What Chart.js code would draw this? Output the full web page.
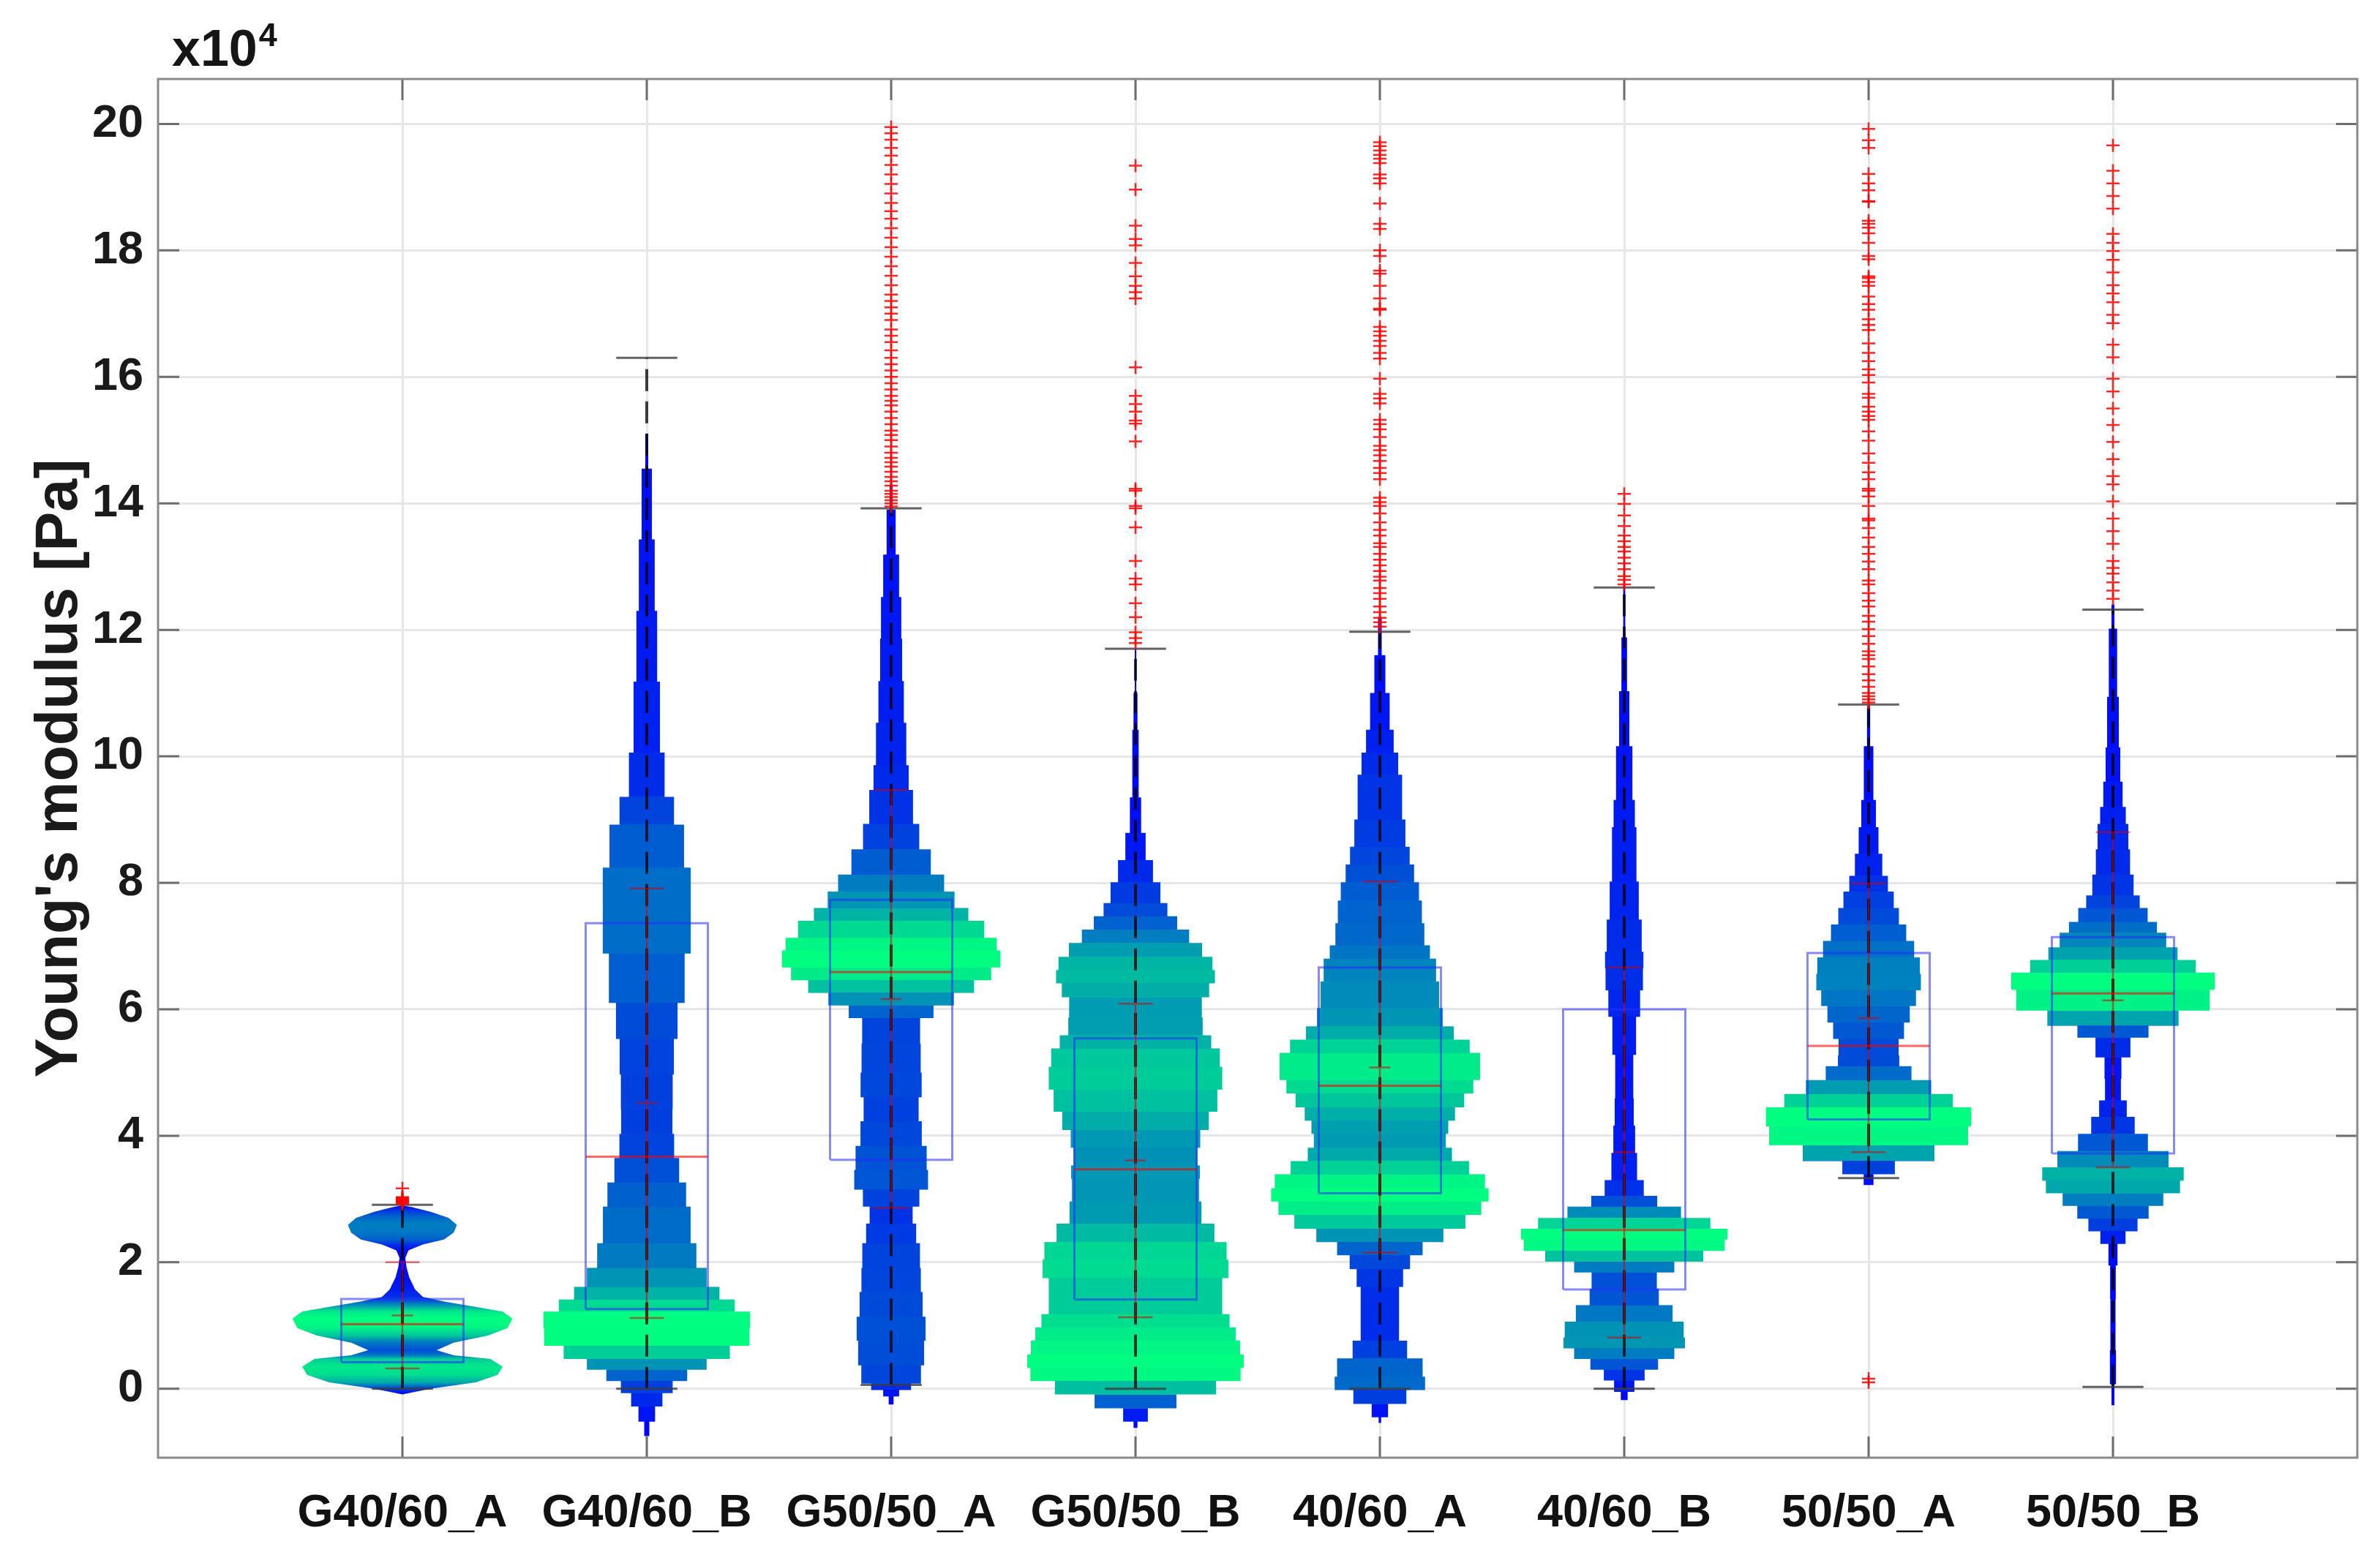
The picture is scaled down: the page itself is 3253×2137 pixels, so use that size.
<!DOCTYPE html>
<html>
<head>
<meta charset="utf-8">
<script src="https://cdn.jsdelivr.net/npm/chart.js@4.4.1/dist/chart.umd.min.js"></script>
<style>
html, body { margin: 0; padding: 0; background: #fff; }
canvas { display: block; }
</style>
</head>
<body>
<canvas id="chart" width="3253" height="2137"></canvas>
<script>
const categories = ['G40/60_A', 'G40/60_B', 'G50/50_A', 'G50/50_B', '40/60_A', '40/60_B', '50/50_A', '50/50_B'];
const yTicks = [0, 2, 4, 6, 8, 10, 12, 14, 16, 18, 20];

// box plot summary (x10^4 Pa)
const q1 = [0.42, 1.26, 3.62, 1.41, 3.09, 1.57, 4.26, 3.72];
const median = [1.02, 3.67, 6.59, 3.47, 4.79, 2.51, 5.42, 6.25];
const q3 = [1.42, 7.36, 7.73, 5.54, 6.66, 6.0, 6.89, 7.14];
const whiskerLow = [0.0, 0.0, 0.06, 0.0, 0.0, 0.0, 3.33, 0.03];
const whiskerHigh = [2.91, 16.3, 13.92, 11.7, 11.97, 12.67, 10.82, 12.32];
const meanVals = [1.16, 4.52, 6.16, 3.61, 5.08, 3.74, 5.86, 6.14];
const sdLow = [0.32, 1.12, 2.86, 1.13, 2.15, 0.81, 3.74, 3.5];
const sdHigh = [2.0, 7.91, 9.47, 6.09, 8.02, 6.66, 7.99, 8.8];

// violin outline: levels and half widths (in category units)
const violinY = [
    [-0.09, 0.0, 0.1, 0.22, 0.35, 0.47, 0.53, 0.61, 0.73, 0.84, 0.96, 1.11, 1.22, 1.3, 1.38, 1.45, 1.57, 1.76, 1.92, 2.07, 2.19, 2.28, 2.36, 2.47, 2.59, 2.7, 2.8, 2.87, 2.9],
    [-0.75, -0.52, -0.28, -0.07, 0.12, 0.3, 0.47, 0.68, 0.95, 1.22, 1.41, 1.61, 1.91, 2.3, 2.88, 3.26, 3.65, 4.03, 4.42, 4.97, 5.53, 6.1, 6.88, 7.56, 8.24, 8.92, 9.36, 10.06, 11.18, 12.3, 13.43, 14.55, 15.1],
    [-0.25, -0.12, -0.02, 0.08, 0.37, 0.76, 1.14, 1.53, 1.91, 2.3, 2.61, 2.88, 3.15, 3.46, 3.84, 4.23, 4.61, 5.0, 5.46, 5.86, 6.06, 6.26, 6.46, 6.66, 6.93, 7.13, 7.4, 7.6, 7.86, 8.13, 8.53, 8.93, 9.47, 9.86, 10.53, 11.19, 11.86, 12.52, 13.19, 13.9, 14.3],
    [-0.62, -0.52, -0.31, -0.09, 0.12, 0.33, 0.54, 0.76, 0.97, 1.18, 1.47, 1.75, 2.04, 2.32, 2.61, 2.96, 3.32, 3.53, 3.81, 4.09, 4.38, 4.73, 5.09, 5.38, 5.59, 5.87, 6.19, 6.41, 6.62, 6.83, 7.05, 7.26, 7.47, 7.68, 8.01, 8.36, 8.79, 9.35, 10.42, 11.0, 11.7],
    [-0.54, -0.45, -0.24, -0.02, 0.19, 0.48, 0.76, 1.18, 1.61, 1.89, 2.11, 2.32, 2.53, 2.75, 2.96, 3.17, 3.39, 3.6, 3.81, 4.03, 4.24, 4.45, 4.67, 4.88, 5.09, 5.31, 5.52, 5.73, 6.02, 6.44, 6.8, 7.01, 7.36, 7.72, 8.01, 8.29, 8.57, 9.0, 9.71, 10.06, 10.42, 11.0, 11.6, 12.2],
    [-0.18, -0.05, 0.13, 0.3, 0.47, 0.64, 0.81, 1.06, 1.32, 1.58, 1.84, 2.01, 2.18, 2.36, 2.53, 2.7, 2.88, 3.05, 3.3, 3.73, 4.16, 4.59, 5.28, 5.88, 6.3, 6.65, 6.91, 7.42, 8.02, 8.88, 9.31, 10.16, 11.03, 11.88, 12.7],
    [3.22, 3.39, 3.6, 3.85, 4.15, 4.45, 4.66, 4.88, 5.1, 5.27, 5.53, 5.79, 6.05, 6.3, 6.56, 6.82, 7.08, 7.34, 7.6, 7.86, 8.11, 8.46, 8.88, 9.31, 10.16, 10.76],
    [-0.26, 0.07, 0.61, 1.02, 1.42, 1.95, 2.29, 2.49, 2.69, 2.89, 3.09, 3.29, 3.5, 3.76, 4.03, 4.3, 4.56, 4.9, 5.24, 5.55, 5.74, 5.98, 6.31, 6.58, 6.78, 6.98, 7.21, 7.38, 7.6, 7.8, 8.13, 8.53, 8.93, 9.2, 9.6, 10.14, 10.94, 12.02, 12.4]
];
const violinW = [
    [0.0, 0.115, 0.3, 0.39, 0.41, 0.36, 0.21, 0.14, 0.21, 0.35, 0.43, 0.45, 0.41, 0.29, 0.17, 0.084, 0.052, 0.028, 0.017, 0.012, 0.025, 0.084, 0.17, 0.21, 0.223, 0.19, 0.115, 0.04, 0.0],
    [0.0, 0.021, 0.047, 0.081, 0.131, 0.2, 0.29, 0.39, 0.45, 0.395, 0.325, 0.27, 0.22, 0.186, 0.173, 0.149, 0.116, 0.108, 0.102, 0.11, 0.112, 0.14, 0.17, 0.19, 0.17, 0.135, 0.088, 0.058, 0.05, 0.035, 0.03, 0.012, 0.0],
    [0.0, 0.02, 0.045, 0.118, 0.126, 0.144, 0.138, 0.12, 0.123, 0.113, 0.092, 0.084, 0.147, 0.155, 0.136, 0.115, 0.11, 0.14, 0.102, 0.135, 0.212, 0.302, 0.377, 0.442, 0.452, 0.412, 0.35, 0.282, 0.237, 0.197, 0.128, 0.102, 0.077, 0.067, 0.057, 0.047, 0.043, 0.04, 0.025, 0.012, 0.0],
    [0.0, 0.016, 0.085, 0.25, 0.41, 0.45, 0.436, 0.42, 0.4, 0.37, 0.34, 0.37, 0.39, 0.356, 0.29, 0.25, 0.27, 0.257, 0.25, 0.28, 0.32, 0.35, 0.36, 0.33, 0.29, 0.26, 0.283, 0.32, 0.33, 0.3, 0.245, 0.194, 0.147, 0.114, 0.09, 0.053, 0.03, 0.016, 0.01, 0.006, 0.0],
    [0.0, 0.01, 0.057, 0.16, 0.21, 0.14, 0.083, 0.074, 0.083, 0.107, 0.14, 0.21, 0.31, 0.39, 0.44, 0.45, 0.41, 0.32, 0.27, 0.27, 0.29, 0.325, 0.365, 0.4, 0.42, 0.4, 0.335, 0.27, 0.245, 0.24, 0.22, 0.19, 0.174, 0.17, 0.15, 0.13, 0.114, 0.095, 0.087, 0.063, 0.05, 0.03, 0.015, 0.0],
    [0.005, 0.023, 0.06, 0.107, 0.17, 0.24, 0.257, 0.23, 0.166, 0.117, 0.15, 0.26, 0.387, 0.435, 0.41, 0.295, 0.17, 0.1, 0.06, 0.045, 0.044, 0.034, 0.04, 0.057, 0.073, 0.08, 0.077, 0.066, 0.053, 0.047, 0.04, 0.027, 0.015, 0.008, 0.0],
    [0.0, 0.04, 0.175, 0.364, 0.45, 0.39, 0.3, 0.213, 0.138, 0.113, 0.133, 0.157, 0.18, 0.208, 0.22, 0.2, 0.173, 0.135, 0.113, 0.093, 0.065, 0.047, 0.034, 0.026, 0.013, 0.0],
    [0.0, 0.012, 0.013, 0.008, 0.013, 0.01, 0.027, 0.076, 0.125, 0.167, 0.245, 0.304, 0.275, 0.18, 0.106, 0.072, 0.041, 0.024, 0.045, 0.098, 0.193, 0.344, 0.448, 0.385, 0.293, 0.236, 0.2, 0.16, 0.124, 0.095, 0.074, 0.066, 0.06, 0.045, 0.034, 0.026, 0.022, 0.012, 0.0]
];

const outliers = [
    [2.92, 2.94, 2.95, 2.96, 2.97, 2.98, 2.99, 3.0, 3.01, 3.02, 3.03, 3.17],
    [],
    [13.95, 14.0, 14.05, 14.1, 14.15, 14.2, 14.28, 14.35, 14.42, 14.5, 14.58, 14.65, 14.72, 14.8, 14.9, 15.0, 15.08, 15.15, 15.25, 15.35, 15.45, 15.55, 15.62, 15.7, 15.8, 15.9, 16.0, 16.1, 16.2, 16.3, 16.42, 16.55, 16.65, 16.75, 16.9, 17.0, 17.1, 17.2, 17.3, 17.45, 17.6, 17.75, 17.9, 18.05, 18.2, 18.35, 18.5, 18.62, 18.75, 18.9, 19.05, 19.2, 19.35, 19.5, 19.62, 19.75, 19.85, 19.95],
    [11.79, 11.87, 11.96, 12.2, 12.42, 12.72, 12.81, 13.09, 13.62, 13.92, 13.96, 14.2, 14.23, 14.98, 15.26, 15.31, 15.45, 15.57, 15.7, 16.15, 17.24, 17.34, 17.44, 17.59, 17.8, 18.08, 18.18, 18.39, 18.96, 19.34],
    [12.05, 12.12, 12.19, 12.28, 12.37, 12.49, 12.58, 12.66, 12.78, 12.84, 12.93, 13.02, 13.11, 13.2, 13.31, 13.37, 13.49, 13.58, 13.7, 13.84, 13.96, 14.02, 14.09, 14.38, 14.48, 14.56, 14.67, 14.76, 14.84, 14.91, 15.05, 15.17, 15.25, 15.32, 15.58, 15.66, 15.73, 15.97, 16.29, 16.38, 16.49, 16.57, 16.65, 16.72, 16.79, 17.06, 17.08, 17.24, 17.44, 17.63, 17.68, 17.91, 18.0, 18.34, 18.42, 18.74, 19.06, 19.14, 19.2, 19.38, 19.45, 19.51, 19.58, 19.65, 19.71],
    [12.72, 12.79, 12.85, 12.96, 13.05, 13.14, 13.24, 13.31, 13.4, 13.49, 13.64, 13.81, 13.99, 14.15],
    [0.1, 0.16, 10.85, 10.9, 10.95, 11.0, 11.1, 11.2, 11.3, 11.42, 11.54, 11.6, 11.66, 11.78, 11.9, 12.01, 12.13, 12.22, 12.37, 12.46, 12.58, 12.72, 12.78, 12.96, 13.08, 13.2, 13.31, 13.46, 13.61, 13.73, 13.76, 13.96, 14.11, 14.2, 14.23, 14.38, 14.49, 14.64, 14.79, 14.99, 15.14, 15.32, 15.38, 15.45, 15.53, 15.67, 15.73, 15.91, 16.03, 16.12, 16.25, 16.38, 16.53, 16.74, 16.82, 16.91, 17.06, 17.15, 17.27, 17.44, 17.5, 17.56, 17.59, 17.86, 17.91, 18.12, 18.27, 18.36, 18.42, 18.47, 18.77, 18.78, 18.95, 19.06, 19.21, 19.62, 19.74, 19.92],
    [12.49, 12.62, 12.75, 12.89, 12.98, 13.09, 13.36, 13.56, 13.76, 14.03, 14.3, 14.43, 14.7, 14.97, 15.24, 15.5, 15.77, 15.97, 16.31, 16.51, 16.85, 16.98, 17.18, 17.32, 17.45, 17.65, 17.85, 17.99, 18.12, 18.26, 18.66, 18.86, 19.06, 19.26, 19.66]
];

const BOX_HALF = 0.25;
const CAP_HALF = 0.125;
const SD_CAP_HALF = 0.07;
const MEAN_HALF = 0.043;
const SMOOTH = [0]; // violins drawn with a smooth (fine binned) outline
const FONT = '"Liberation Sans", Arial, Helvetica, sans-serif';

// matlab "winter" colormap
function winter(t) {
    return 'rgb(0,' + Math.round(255 * t) + ',' + Math.round(255 * (1 - 0.5 * t)) + ')';
}

function violinGradient(context, i) {
    if (context.type !== 'dataset') return 'rgba(0,0,0,0)';
    const chart = context.chart;
    const yScale = chart.scales.y;
    if (!chart.chartArea || !yScale) return winter(0);
    const ys = violinY[i];
    const ws = violinW[i];
    const pb = yScale.getPixelForValue(ys[0]);
    const pt = yScale.getPixelForValue(ys[ys.length - 1]);
    const g = chart.ctx.createLinearGradient(0, pb, 0, pt);
    const off = y => Math.min(1, Math.max(0, (pb - yScale.getPixelForValue(y)) / (pb - pt)));
    if (SMOOTH.includes(i)) {
        const wmax = Math.max(...ws);
        ys.forEach((y, k) => g.addColorStop(off(y), winter(ws[k] / wmax)));
        return g;
    }
    let wmax = 0;
    for (let k = 0; k < ys.length - 1; k++) wmax = Math.max(wmax, (ws[k] + ws[k + 1]) / 2);
    for (let k = 0; k < ys.length - 1; k++) {
        const col = winter(((ws[k] + ws[k + 1]) / 2) / wmax);
        g.addColorStop(off(ys[k]), col);
        g.addColorStop(off(ys[k + 1]), col);
    }
    return g;
}

function paths(list) {
    const pts = [];
    list.forEach(path => {
        path.forEach(p => pts.push({ x: p[0], y: p[1] }));
        pts.push({ x: path[0][0], y: null });
    });
    return pts;
}

function lineSet(data, color, width, extra) {
    return Object.assign({
        type: 'scatter', data: data, showLine: true, fill: false, spanGaps: false,
        borderColor: color, borderWidth: width, pointRadius: 0, order: 5
    }, extra || {});
}

const violinSets = categories.map((name, i) => {
    const c = i + 1;
    const right = violinY[i].map((y, k) => ({ x: c + violinW[i][k], y: y }));
    const left = violinY[i].map((y, k) => ({ x: c - violinW[i][k], y: y })).reverse();
    return {
        type: 'scatter', label: name, data: right.concat(left),
        showLine: true, fill: 'shape', stepped: SMOOTH.includes(i) ? false : 'middle',
        borderWidth: 0, borderColor: 'rgba(0,0,0,0)', pointRadius: 0, order: 10,
        backgroundColor: (context) => violinGradient(context, i)
    };
});

const pos = categories.map((_, i) => i + 1);

const boxSet = lineSet(paths(pos.map((c, i) => [
    [c - BOX_HALF, q1[i]], [c + BOX_HALF, q1[i]], [c + BOX_HALF, q3[i]], [c - BOX_HALF, q3[i]], [c - BOX_HALF, q1[i]]
])), 'rgba(40,40,255,0.55)', 3);

const medianSet = lineSet(paths(pos.map((c, i) => [[c - BOX_HALF, median[i]], [c + BOX_HALF, median[i]]])),
    'rgba(255,0,0,0.6)', 3);

const whiskerSet = lineSet(paths(pos.map((c, i) => [[c, whiskerLow[i]], [c, whiskerHigh[i]]])),
    'rgba(0,0,0,0.75)', 4, { borderDash: [30, 14] });

const capSet = lineSet(paths(pos.flatMap((c, i) => [
    [[c - CAP_HALF, whiskerLow[i]], [c + CAP_HALF, whiskerLow[i]]],
    [[c - CAP_HALF, whiskerHigh[i]], [c + CAP_HALF, whiskerHigh[i]]]
])), 'rgba(60,60,60,0.8)', 3);

const sdSet = lineSet(paths(pos.flatMap((c, i) => [
    [[c, sdLow[i]], [c, sdHigh[i]]],
    [[c - SD_CAP_HALF, sdLow[i]], [c + SD_CAP_HALF, sdLow[i]]],
    [[c - SD_CAP_HALF, sdHigh[i]], [c + SD_CAP_HALF, sdHigh[i]]],
    [[c - MEAN_HALF, meanVals[i]], [c + MEAN_HALF, meanVals[i]]]
])), 'rgba(220,0,0,0.55)', 2.5);

const outlierSet = {
    type: 'scatter',
    data: outliers.flatMap((vals, i) => vals.map(v => ({ x: i + 1, y: v }))),
    pointStyle: 'cross', pointRadius: 9, pointBorderWidth: 2.5,
    borderColor: 'rgba(255,0,0,0.85)', backgroundColor: 'rgba(255,0,0,0.85)',
    showLine: false, order: 0
};

const framePlugin = {
    id: 'frame',
    afterDraw(chart) {
        const { ctx, chartArea: a, scales: { x, y } } = chart;
        const tick = 29;
        ctx.save();
        ctx.lineWidth = 3;
        ctx.strokeStyle = '#6e6e6e';
        ctx.beginPath();
        y.ticks.forEach(t => {
            const p = y.getPixelForValue(t.value);
            ctx.moveTo(a.left, p); ctx.lineTo(a.left + tick, p);
            ctx.moveTo(a.right, p); ctx.lineTo(a.right - tick, p);
        });
        x.ticks.forEach(t => {
            const p = x.getPixelForValue(t.value);
            ctx.moveTo(p, a.bottom); ctx.lineTo(p, a.bottom - tick);
            ctx.moveTo(p, a.top); ctx.lineTo(p, a.top + tick);
        });
        ctx.stroke();
        ctx.strokeStyle = '#8a8a8a';
        ctx.strokeRect(a.left, a.top, a.right - a.left, a.bottom - a.top);

        ctx.fillStyle = '#151515';
        ctx.textBaseline = 'alphabetic';
        ctx.font = 'bold 70px ' + FONT;
        ctx.fillText('x10', a.left + 19, a.top - 18);
        const w = ctx.measureText('x10').width;
        ctx.font = 'bold 45px ' + FONT;
        ctx.fillText('4', a.left + 21 + w, a.top - 45);
        ctx.restore();
    }
};

new Chart(document.getElementById('chart').getContext('2d'), {
    type: 'scatter',
    data: {
        datasets: [outlierSet, sdSet, medianSet, capSet, whiskerSet, boxSet].concat(violinSets)
    },
    options: {
        responsive: false,
        animation: false,
        devicePixelRatio: 1,
        events: [],
        layout: { padding: { top: 108, right: 31, left: 0, bottom: 0 } },
        plugins: {
            legend: { display: false },
            tooltip: { enabled: false }
        },
        scales: {
            x: {
                type: 'linear', min: 0, max: 9,
                afterBuildTicks: scale => { scale.ticks = pos.map(v => ({ value: v })); },
                afterFit: scale => { scale.height = 144; },
                grid: { color: '#e6e6e6', lineWidth: 3, drawTicks: false },
                border: { display: false },
                ticks: {
                    autoSkip: false, maxRotation: 0, minRotation: 0, padding: 39,
                    color: '#111',
                    font: { family: FONT, size: 63, weight: 'bold' },
                    callback: v => categories[Math.round(v) - 1]
                }
            },
            y: {
                type: 'linear', min: -1.09, max: 20.71,
                afterBuildTicks: scale => { scale.ticks = yTicks.map(v => ({ value: v })); },
                afterFit: scale => { scale.width = 216; },
                grid: { color: '#e6e6e6', lineWidth: 3, drawTicks: false },
                border: { display: false },
                ticks: {
                    padding: 20, color: '#1a1a1a',
                    font: { family: FONT, size: 63, weight: 'bold' },
                    callback: v => String(v)
                },
                title: {
                    display: true, text: "Young's modulus [Pa]", color: '#1a1a1a',
                    font: { family: FONT, size: 81, weight: 'bold', lineHeight: 1 },
                    padding: { top: 42, bottom: 0 }
                }
            }
        }
    },
    plugins: [framePlugin]
});
</script>
</body>
</html>
